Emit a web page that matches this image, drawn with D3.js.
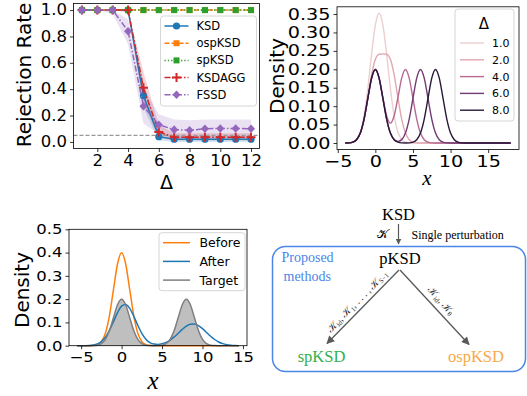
<!DOCTYPE html>
<html>
<head>
<meta charset="utf-8">
<script src="https://cdn.jsdelivr.net/npm/d3@7"></script>
<style>
  body { margin: 0; background: #fff; }
  svg { display: block; }
</style>
</head>
<body>
<svg id="fig" width="527" height="396"></svg>
<script>
// ---------- panel A: rejection rate against delta
const deltas = [1, 2, 3, 4, 5, 6, 7, 8, 9, 10, 11, 12];
const ksdRate    = [1, 1, 1, 1, 0.35, 0.04, 0.02, 0.02, 0.02, 0.02, 0.02, 0.02];
const ospRate    = [1, 1, 1, 1, 1, 1, 1, 1, 1, 1, 1, 1];
const spRate     = [1, 1, 1, 1, 1, 1, 1, 1, 1, 1, 1, 1];
const aggRate    = [1, 1, 1, 1, 0.41, 0.075, 0.035, 0.035, 0.035, 0.035, 0.035, 0.035];
const fssdRate   = [1, 1, 1, 0.84, 0.27, 0.13, 0.093, 0.088, 0.1, 0.102, 0.102, 0.1];
const ksdLo  = [1, 1, 1, 1, 0.26, 0.01, 0, 0, 0, 0, 0, 0];
const ksdHi  = [1, 1, 1, 1, 0.45, 0.08, 0.045, 0.045, 0.045, 0.045, 0.045, 0.045];
const aggLo  = [1, 1, 1, 0.98, 0.3, 0.03, 0.01, 0.01, 0.01, 0.01, 0.01, 0.01];
const aggHi  = [1, 1, 1, 1, 0.53, 0.13, 0.065, 0.065, 0.065, 0.065, 0.065, 0.065];
const fssdLo = [1, 1, 0.97, 0.74, 0.14, 0.06, 0.03, 0.03, 0.035, 0.035, 0.035, 0.035];
const fssdHi = [1, 1, 1, 0.93, 0.41, 0.21, 0.17, 0.165, 0.17, 0.17, 0.17, 0.17];
const levelLine = 0.05;
const rateXTicks = [2, 4, 6, 8, 10, 12];
const rateYTicks = [0, 0.2, 0.4, 0.6, 0.8, 1.0];

// ---------- panel B: target densities for several delta
const gridB = [-4, -3.5, -3, -2.5, -2, -1.5, -1, -0.5, 0, 0.5, 1, 1.5, 2, 2.5, 3, 3.5, 4, 4.5,
               5, 5.5, 6, 6.5, 7, 7.5, 8, 8.5, 9, 9.5, 10, 10.5, 11, 11.5, 12, 18];
const dens1 = [0.0001, 0.0004, 0.0023, 0.0092, 0.029, 0.074, 0.148, 0.241, 0.32, 0.352, 0.32, 0.241,
               0.148, 0.074, 0.029, 0.0092, 0.0023, 0.0004, 0.0001, 0, 0, 0, 0, 0, 0, 0, 0, 0, 0, 0, 0, 0, 0, 0];
const dens2 = [0, 0.0004, 0.0022, 0.0088, 0.027, 0.065, 0.123, 0.185, 0.227, 0.241, 0.242, 0.241,
               0.227, 0.185, 0.123, 0.065, 0.027, 0.0088, 0.0022, 0.0004, 0, 0, 0, 0, 0, 0, 0, 0, 0, 0, 0, 0, 0, 0];
const dens4 = [0, 0.0004, 0.0022, 0.0088, 0.027, 0.065, 0.121, 0.176, 0.1996, 0.176, 0.123, 0.074,
               0.054, 0.074, 0.123, 0.176, 0.1996, 0.176, 0.121, 0.065, 0.027, 0.0088, 0.0022, 0.0004,
               0, 0, 0, 0, 0, 0, 0, 0, 0, 0];
const dens6 = [0, 0.0004, 0.0022, 0.0088, 0.027, 0.065, 0.121, 0.176, 0.1995, 0.176, 0.121, 0.065,
               0.0271, 0.0092, 0.0044, 0.0092, 0.0271, 0.065, 0.121, 0.176, 0.1995, 0.176, 0.121, 0.065,
               0.027, 0.0088, 0.0022, 0.0004, 0, 0, 0, 0, 0, 0];
const dens8 = [0, 0.0004, 0.0022, 0.0088, 0.027, 0.065, 0.121, 0.176, 0.1995, 0.176, 0.121, 0.065,
               0.027, 0.0088, 0.0022, 0.0004, 0.0001, 0.0004, 0.0022, 0.0088, 0.027, 0.065, 0.121, 0.176,
               0.1995, 0.176, 0.121, 0.065, 0.027, 0.0088, 0.0022, 0.0004, 0, 0];
const deltaLabels = ['1.0', '2.0', '4.0', '6.0', '8.0'];
const deltaColors = ['#eccfd0', '#e0a8b0', '#b86a93', '#733b73', '#2b1838'];
const densXTicks = [-5, 0, 5, 10, 15];
const densYTicks = [0, 0.05, 0.1, 0.15, 0.2, 0.25, 0.3, 0.35];

// ---------- panel C: before / after perturbation
const gridC = [-5.5, -5, -4.5, -4, -3.5, -3, -2.5, -2, -1.5, -1, -0.5, 0, 0.5, 1, 1.5, 2, 2.5, 3, 3.5, 4,
               4.5, 5, 5.5, 6, 6.5, 7, 7.5, 8, 8.5, 9, 9.5, 10, 10.5, 11, 11.5, 12, 12.5, 13, 13.5, 14, 14.5];
const before = [0, 0, 0, 0.0001, 0.0009, 0.0044, 0.0175, 0.054, 0.1295, 0.242, 0.352, 0.399, 0.352, 0.242,
                0.1295, 0.054, 0.0175, 0.0044, 0.0009, 0.0001, 0, 0, 0, 0, 0, 0, 0, 0, 0, 0, 0, 0, 0, 0,
                0, 0, 0, 0, 0, 0, 0];
const after = [0, 0.0001, 0.0002, 0.0009, 0.0027, 0.0074, 0.0176, 0.0365, 0.0659, 0.1036, 0.142, 0.1697,
               0.1768, 0.1606, 0.1272, 0.0879, 0.053, 0.028, 0.0134, 0.0068, 0.0056, 0.0082, 0.0144, 0.0242,
               0.0376, 0.0536, 0.0701, 0.084, 0.0924, 0.0932, 0.0862, 0.0732, 0.0569, 0.0406, 0.0266, 0.016,
               0.0088, 0.0044, 0.0021, 0.0009, 0.0003];
const target = [0, 0, 0, 0.0001, 0.0004, 0.0022, 0.0088, 0.027, 0.065, 0.121, 0.176, 0.1995, 0.176, 0.121,
                0.065, 0.027, 0.0088, 0.0022, 0.0004, 0.0002, 0.0004, 0.0022, 0.0088, 0.027, 0.065, 0.121,
                0.176, 0.1995, 0.176, 0.121, 0.065, 0.027, 0.0088, 0.0022, 0.0004, 0.0001, 0, 0, 0, 0, 0];
const pertXTicks = [-5, 0, 5, 10, 15];
const pertYTicks = [0, 0.1, 0.2, 0.3, 0.4, 0.5];

const svg = d3.select('#fig');
const FONT = 'DejaVu Sans';

// draws box + ticks, text squeezed sideways like the source images
function axes(x, y, xt, yt, xfmt, yfmt, fs, sx) {
  const g = svg.append('g');
  const [xa, xb] = x.range(), [ya, yb] = y.range();
  const bx = g.append('g').attr('transform', 'translate(0,' + ya + ')')
    .call(d3.axisBottom(x).tickValues(xt).tickFormat(d3.format(xfmt)).tickSize(3.5).tickSizeOuter(0).tickPadding(3));
  const by = g.append('g').attr('transform', 'translate(' + xa + ',0)')
    .call(d3.axisLeft(y).tickValues(yt).tickFormat(d3.format(yfmt)).tickSize(3.5).tickSizeOuter(0).tickPadding(3));
  [bx, by].forEach(a => {
    a.select('.domain').remove();
    a.selectAll('.tick line').attr('stroke', '#000').attr('stroke-width', 0.8);
    a.selectAll('.tick text').attr('fill', '#000').style('font-family', FONT).style('font-size', fs + 'px');
  });
  bx.selectAll('.tick text').attr('transform', 'scale(' + sx + ',1)');
  by.selectAll('.tick text').attr('x', -6.5 / sx).attr('transform', 'scale(' + sx + ',1)');
  g.append('rect').attr('x', xa).attr('y', yb).attr('width', xb - xa).attr('height', ya - yb)
    .attr('fill', 'none').attr('stroke', '#000').attr('stroke-width', 0.8);
}

function marker(g, kind, cx, cy, color) {
  if (kind === 'o') g.append('circle').attr('cx', cx).attr('cy', cy).attr('r', 3.6).attr('fill', color);
  if (kind === 's') g.append('rect').attr('x', cx - 3).attr('y', cy - 3).attr('width', 6).attr('height', 6).attr('fill', color);
  if (kind === '+') g.append('path').attr('d', `M${cx - 4.5},${cy}H${cx + 4.5}M${cx},${cy - 4.5}V${cy + 4.5}`)
    .attr('stroke', color).attr('stroke-width', 2);
  if (kind === 'D') g.append('path').attr('d', `M${cx},${cy - 4.3}L${cx + 4},${cy}L${cx},${cy + 4.3}L${cx - 4},${cy}Z`)
    .attr('fill', color);
}

// ---------- panel A
{
  const x = d3.scaleLinear().domain([0.45, 12.55]).range([73.5, 259.5]);
  const y = d3.scaleLinear().domain([-0.05, 1.05]).range([148.5, 3.5]);
  const g = svg.append('g');
  const bands = [[ksdLo, ksdHi, '#1f77b4'], [aggLo, aggHi, '#d62728'], [fssdLo, fssdHi, '#9467bd']];
  bands.forEach(([lo, hi, c]) => {
    g.append('path').datum(deltas.map((d, i) => [d, lo[i], hi[i]]))
      .attr('d', d3.area().x(d => x(d[0])).y0(d => y(d[1])).y1(d => y(d[2])))
      .attr('fill', c).attr('fill-opacity', 0.2);
  });
  g.append('line').attr('x1', 73.5).attr('x2', 259.5).attr('y1', y(levelLine)).attr('y2', y(levelLine))
    .attr('stroke', '#999').attr('stroke-width', 1.2).attr('stroke-dasharray', '4,2');
  const series = [
    { name: 'KSD', vals: ksdRate, color: '#1f77b4', dash: null, mk: 'o' },
    { name: 'ospKSD', vals: ospRate, color: '#ff7f0e', dash: '5,2', mk: 's' },
    { name: 'spKSD', vals: spRate, color: '#2ca02c', dash: '1.3,2', mk: 's' },
    { name: 'KSDAGG', vals: aggRate, color: '#d62728', dash: '6,2,1.5,2', mk: '+' },
    { name: 'FSSD', vals: fssdRate, color: '#9467bd', dash: '6,2,1.5,2', mk: 'D' }
  ];
  const line = d3.line().x(d => x(d[0])).y(d => y(d[1]));
  series.forEach(s => {
    const pts = deltas.map((d, i) => [d, s.vals[i]]);
    g.append('path').datum(pts).attr('d', line).attr('fill', 'none')
      .attr('stroke', s.color).attr('stroke-width', 1.5).attr('stroke-dasharray', s.dash);
    pts.forEach(p => marker(g, s.mk, x(p[0]), y(p[1]), s.color));
  });
  axes(x, y, rateXTicks, rateYTicks, 'd', '.1f', 15, 1.1);

  // legend
  const lg = svg.append('g');
  lg.append('rect').attr('x', 160.5).attr('y', 16).attr('width', 96).attr('height', 90).attr('rx', 3)
    .attr('fill', '#fff').attr('fill-opacity', 0.8).attr('stroke', '#cccccc').attr('stroke-width', 0.8);
  series.forEach((s, i) => {
    const ly = 26 + i * 17.2;
    lg.append('line').attr('x1', 164.5).attr('x2', 188.5).attr('y1', ly).attr('y2', ly)
      .attr('stroke', s.color).attr('stroke-width', 1.5).attr('stroke-dasharray', s.dash);
    marker(lg, s.mk, 176.5, ly, s.color);
    lg.append('text').attr('x', 196.5).attr('y', ly + 4).text(s.name)
      .style('font-family', FONT).style('font-size', '11.5px');
  });

  svg.append('text').attr('transform', 'translate(31,75) rotate(-90)').attr('text-anchor', 'middle')
    .text('Rejection Rate').style('font-family', FONT).style('font-size', '20px');
  svg.append('text').attr('x', 166.5).attr('y', 189).attr('text-anchor', 'middle')
    .text('Δ').style('font-family', FONT).style('font-size', '19px');
}

// ---------- panel B
{
  const x = d3.scaleLinear().domain([-5.1, 19.1]).range([337, 519]);
  const y = d3.scaleLinear().domain([-0.0176, 0.3696]).range([149.5, 6.8]);
  const g = svg.append('g');
  const line = d3.line().x(d => x(d[0])).y(d => y(d[1])).curve(d3.curveMonotoneX);
  [dens1, dens2, dens4, dens6, dens8].forEach((vals, k) => {
    g.append('path').datum(gridB.map((v, i) => [v, vals[i]])).attr('d', line)
      .attr('fill', 'none').attr('stroke', deltaColors[k]).attr('stroke-width', 1.4);
  });
  axes(x, y, densXTicks, densYTicks, 'd', '.2f', 16, 1.2);

  const lg = svg.append('g');
  lg.append('rect').attr('x', 455).attr('y', 9).attr('width', 59).attr('height', 112).attr('rx', 3)
    .attr('fill', '#fff').attr('fill-opacity', 0.8).attr('stroke', '#cccccc').attr('stroke-width', 0.8);
  lg.append('text').attr('x', 484).attr('y', 29).attr('text-anchor', 'middle').text('Δ')
    .style('font-family', FONT).style('font-size', '15px');
  deltaLabels.forEach((t, i) => {
    const ly = 43 + i * 16.8;
    lg.append('line').attr('x1', 460).attr('x2', 484).attr('y1', ly).attr('y2', ly)
      .attr('stroke', deltaColors[i]).attr('stroke-width', 1.4);
    lg.append('text').attr('x', 492).attr('y', ly + 4).text(t)
      .style('font-family', FONT).style('font-size', '11px');
  });

  svg.append('text').attr('transform', 'translate(284,76) rotate(-90)').attr('text-anchor', 'middle')
    .text('Density').style('font-family', FONT).style('font-size', '20px');
  svg.append('text').attr('x', 427).attr('y', 185).attr('text-anchor', 'middle').text('x')
    .style('font-family', 'Liberation Serif').style('font-style', 'italic').style('font-size', '21px');
}

// ---------- panel C
{
  const x = d3.scaleLinear().domain([-6.5, 15.5]).range([69, 247]);
  const y = d3.scaleLinear().domain([0, 0.5]).range([345.7, 229.3]);
  const g = svg.append('g');
  const tgt = gridC.map((v, i) => [v, target[i]]);
  g.append('path').datum(tgt)
    .attr('d', d3.area().x(d => x(d[0])).y0(y(0)).y1(d => y(d[1])).curve(d3.curveMonotoneX))
    .attr('fill', '#808080').attr('fill-opacity', 0.5);
  const line = d3.line().x(d => x(d[0])).y(d => y(d[1])).curve(d3.curveMonotoneX);
  const curves = [
    { name: 'Before', vals: before, color: '#ff7f0e' },
    { name: 'After', vals: after, color: '#1f77b4' },
    { name: 'Target', vals: target, color: '#7f7f7f' }
  ];
  curves.forEach(c => {
    g.append('path').datum(gridC.map((v, i) => [v, c.vals[i]])).attr('d', line)
      .attr('fill', 'none').attr('stroke', c.color).attr('stroke-width', 1.5);
  });
  axes(x, y, pertXTicks, pertYTicks, 'd', '.1f', 13.5, 1.22);

  const lg = svg.append('g');
  lg.append('rect').attr('x', 159).attr('y', 232.7).attr('width', 86).attr('height', 58).attr('rx', 3)
    .attr('fill', '#fff').attr('fill-opacity', 0.8).attr('stroke', '#cccccc').attr('stroke-width', 0.8);
  curves.forEach((c, i) => {
    const ly = 242.7 + i * 18.7;
    lg.append('line').attr('x1', 163).attr('x2', 190).attr('y1', ly).attr('y2', ly)
      .attr('stroke', c.color).attr('stroke-width', 1.5);
    lg.append('text').attr('x', 199.5).attr('y', ly + 4.5).text(c.name)
      .style('font-family', FONT).style('font-size', '12.5px');
  });

  svg.append('text').attr('transform', 'translate(29,290) rotate(-90)').attr('text-anchor', 'middle')
    .text('Density').style('font-family', FONT).style('font-size', '20px');
  svg.append('text').attr('x', 153).attr('y', 389).attr('text-anchor', 'middle').text('x')
    .style('font-family', 'Liberation Serif').style('font-style', 'italic').style('font-size', '25px');
}

// ---------- panel D: method diagram
{
  const SERIF = 'Liberation Serif';
  const blue = '#4a86e8', grey = '#595959';
  const g = svg.append('g');
  const defs = svg.append('defs');
  defs.append('marker').attr('id', 'arr').attr('viewBox', '0 0 10 10').attr('refX', 9).attr('refY', 5)
    .attr('markerWidth', 6).attr('markerHeight', 6).attr('markerUnits', 'userSpaceOnUse').attr('orient', 'auto')
    .append('path').attr('d', 'M0,0L10,5L0,10Z').attr('fill', grey);
  defs.append('marker').attr('id', 'arr2').attr('viewBox', '0 0 10 10').attr('refX', 9).attr('refY', 5)
    .attr('markerWidth', 9).attr('markerHeight', 8).attr('markerUnits', 'userSpaceOnUse').attr('orient', 'auto')
    .append('path').attr('d', 'M0,0L10,5L0,10Z').attr('fill', grey);

  g.append('rect').attr('x', 272.5).attr('y', 246.5).attr('width', 253).attr('height', 125).attr('rx', 13)
    .attr('fill', 'none').attr('stroke', blue).attr('stroke-width', 1.5);

  g.append('text').attr('x', 398.5).attr('y', 220).attr('text-anchor', 'middle').text('KSD')
    .style('font-family', SERIF).style('font-size', '16.5px');
  g.append('line').attr('x1', 398.5).attr('y1', 224).attr('x2', 398.5).attr('y2', 244)
    .attr('stroke', grey).attr('stroke-width', 1.2).attr('marker-end', 'url(#arr)');
  g.append('text').attr('x', 382).attr('y', 238).attr('text-anchor', 'middle').text('𝒦')
    .style('font-family', SERIF).style('font-size', '12px');
  g.append('text').attr('x', 411.5).attr('y', 239).text('Single perturbation')
    .style('font-family', SERIF).style('font-size', '12px');

  g.append('text').attr('x', 400).attr('y', 263.5).attr('text-anchor', 'middle').text('pKSD')
    .style('font-family', SERIF).style('font-size', '16.5px');
  g.append('text').attr('x', 281.5).attr('y', 262).text('Proposed').attr('fill', blue)
    .style('font-family', SERIF).style('font-size', '14px');
  g.append('text').attr('x', 283.5).attr('y', 280.5).text('methods').attr('fill', blue)
    .style('font-family', SERIF).style('font-size', '14px');

  g.append('line').attr('x1', 399).attr('y1', 270).attr('x2', 327).attr('y2', 343.5)
    .attr('stroke', grey).attr('stroke-width', 1.3).attr('marker-end', 'url(#arr2)');
  g.append('line').attr('x1', 400).attr('y1', 270).attr('x2', 469).attr('y2', 344.5)
    .attr('stroke', grey).attr('stroke-width', 1.3).attr('marker-end', 'url(#arr2)');

  const lt = g.append('text').attr('transform', 'translate(363,307) rotate(-45.6)')
    .attr('text-anchor', 'middle').attr('y', -5).attr('fill', '#333')
    .style('font-family', SERIF).style('font-size', '10.5px');
  lt.append('tspan').text('𝒦');
  lt.append('tspan').text('id').attr('dy', 2).style('font-size', '7px');
  lt.append('tspan').text(', 𝒦').attr('dy', -2);
  lt.append('tspan').text('1').attr('dy', 2).style('font-size', '7px');
  lt.append('tspan').text(', . . . , 𝒦').attr('dy', -2);
  lt.append('tspan').text('S−1').attr('dy', 2).style('font-size', '7px');

  const rt = g.append('text').attr('transform', 'translate(434.5,307) rotate(47.2)')
    .attr('text-anchor', 'middle').attr('y', -6).attr('fill', '#333')
    .style('font-family', SERIF).style('font-size', '10.5px');
  rt.append('tspan').text('𝒦');
  rt.append('tspan').text('id').attr('dy', 2).style('font-size', '7px');
  rt.append('tspan').text(', 𝒦').attr('dy', -2);
  rt.append('tspan').text('θ').attr('dy', 2).style('font-size', '7px');

  g.append('text').attr('x', 321.5).attr('y', 362).attr('text-anchor', 'middle').text('spKSD')
    .attr('fill', '#34b04f').style('font-family', SERIF).style('font-size', '16.5px');
  g.append('text').attr('x', 476).attr('y', 362).attr('text-anchor', 'middle').text('ospKSD')
    .attr('fill', '#f7a94b').style('font-family', SERIF).style('font-size', '16.5px');
}
</script>
</body>
</html>
